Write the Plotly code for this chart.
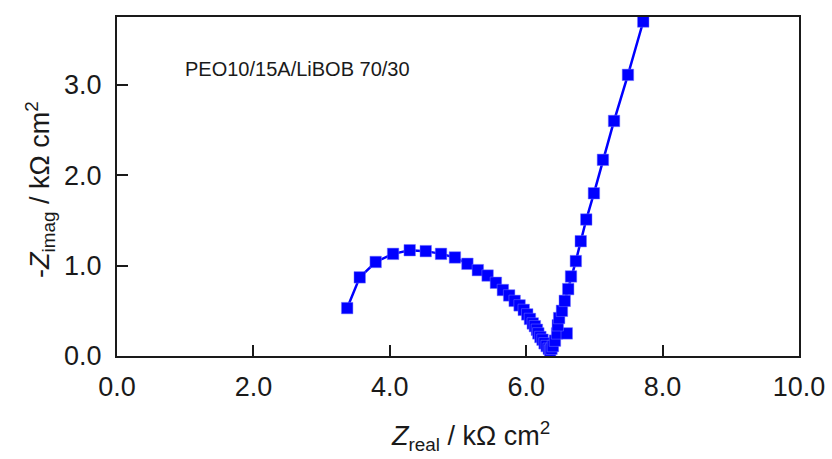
import plotly.graph_objects as go

# ── Data ─────────────────────────────────────────────────────────────────────
z_real = [
    3.375, 3.559, 3.793, 4.048, 4.292, 4.527, 4.751, 4.955, 5.138, 5.291,
    5.434, 5.556, 5.658, 5.750, 5.831, 5.903, 5.964, 6.015, 6.055, 6.096,
    6.127, 6.157, 6.178, 6.208, 6.239, 6.269, 6.300, 6.331, 6.351,
    6.371, 6.392, 6.422, 6.453, 6.595, 6.463, 6.483, 6.524, 6.565, 6.616,
    6.657, 6.728, 6.800, 6.881, 6.993, 7.125, 7.288, 7.492, 7.716,
]
z_imag = [
    0.53, 0.87, 1.04, 1.13, 1.17, 1.16, 1.13, 1.09, 1.02, 0.95,
    0.89, 0.81, 0.73, 0.67, 0.61, 0.56, 0.51, 0.46, 0.41, 0.36,
    0.33, 0.29, 0.25, 0.21, 0.18, 0.14, 0.11, 0.08, 0.06,
    0.08, 0.11, 0.17, 0.25, 0.25, 0.34, 0.42, 0.50, 0.61, 0.74,
    0.88, 1.05, 1.27, 1.51, 1.80, 2.17, 2.60, 3.11, 3.70,
]
x_ticks = [0, 2, 4, 6, 8, 10]
y_ticks = [0, 1, 2, 3]

FONT = "Liberation Sans, Arial, sans-serif"
INK = "#1a1a1a"
BLUE = "#0000FF"

fig = go.Figure(go.Scatter(
    x=z_real,
    y=z_imag,
    mode="lines+markers",
    line=dict(color=BLUE, width=2.5),
    marker=dict(symbol="square", size=11.5, color=BLUE,
                line=dict(color="rgba(120,120,255,0.8)", width=0.6)),
    showlegend=False,
))

axis_common = dict(
    showline=True, linecolor=INK, linewidth=2, mirror=True,
    ticks="inside", ticklen=11, tickwidth=1.5, tickcolor=INK,
    showgrid=False, zeroline=False, automargin=False,
    tickfont=dict(family=FONT, size=27, color=INK),
    tickformat=".1f",
)

fig.update_layout(
    width=832, height=459,
    paper_bgcolor="white", plot_bgcolor="white",
    margin=dict(l=117, r=33, t=17, b=103),
    font=dict(family=FONT, color=INK),
    xaxis=dict(**axis_common, range=[0, 10], tickvals=x_ticks,
               ticklabelstandoff=6),
    yaxis=dict(**axis_common, range=[0, 3.75], tickvals=y_ticks,
               ticklabelstandoff=8),
    annotations=[
        dict(text="PEO10/15A/LiBOB 70/30",
             xref="paper", yref="paper", x=(183 - 117) / 682, y=(356 - 69) / 339,
             xanchor="left", yanchor="middle", showarrow=False,
             font=dict(family=FONT, size=20, color=INK)),
        # axis titles placed as annotations for exact position
        dict(text="<i>Z</i><sub>real</sub> / kΩ cm<sup>2</sup>",
             xref="paper", yref="paper", x=(470 - 117) / 682, y=-(436 - 356) / 339,
             xanchor="center", yanchor="middle", showarrow=False,
             font=dict(family=FONT, size=27, color=INK)),
        dict(text="-<i>Z</i><sub>imag</sub> / kΩ cm<sup>2</sup>",
             xref="paper", yref="paper", x=-(117 - 40) / 682, y=(356 - 190) / 339,
             xanchor="center", yanchor="middle", textangle=-90, showarrow=False,
             font=dict(family=FONT, size=27, color=INK)),
    ],
)

# drop the browser's default body margin so the figure sits at the page origin
fig.write_html("out.html", config={"displayModeBar": False},
               post_script="document.body.style.margin='0';")
